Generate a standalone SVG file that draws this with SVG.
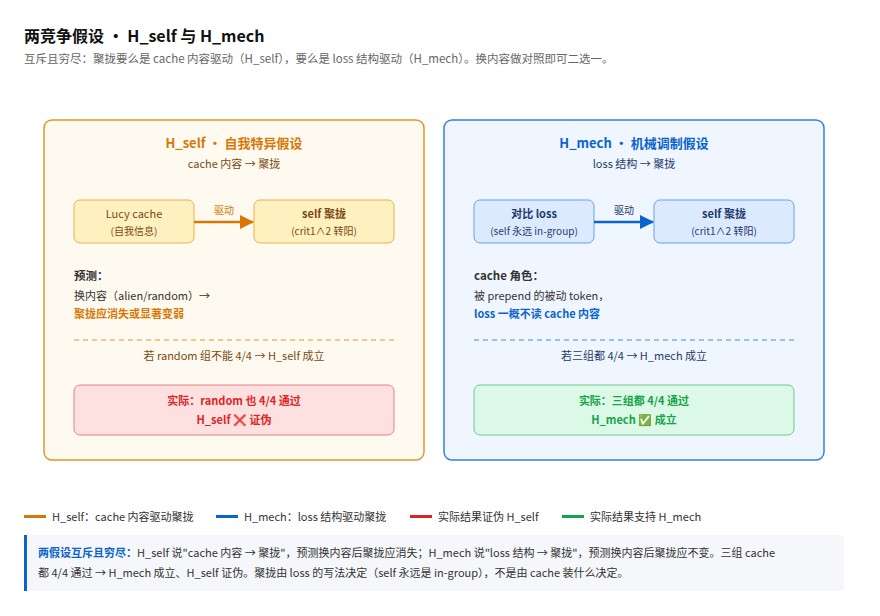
<svg xmlns="http://www.w3.org/2000/svg" width="880" height="616" viewBox="0 0 880 616">
<style>
text{font-family:"Noto Sans CJK SC","Liberation Sans",sans-serif;font-size:11px;fill:#333}
.c{text-anchor:middle}
.b{font-weight:bold}
.o{fill:#d97706}.ob{fill:#7a4a10}
.bl{fill:#0b63ce}.bd{fill:#1e3a6e}
.r{fill:#dc2626}.g{fill:#16a34a}
</style>
<defs>
<marker id="ao" markerWidth="14" markerHeight="14" refX="13" refY="7" orient="auto" markerUnits="userSpaceOnUse"><path d="M0,0L14,7L0,14z" fill="#d97706"/></marker>
<marker id="ab" markerWidth="14" markerHeight="14" refX="13" refY="7" orient="auto" markerUnits="userSpaceOnUse"><path d="M0,0L14,7L0,14z" fill="#0b63ce"/></marker>
</defs>
<rect width="880" height="616" fill="#fff"/>
<text x="24" y="42" style="font-size:16px;fill:#111" class="b">两竞争假设 · H_self 与 H_mech</text>
<text x="24" y="63" style="font-size:11.5px;fill:#666">互斥且穷尽：聚拢要么是 cache 内容驱动（H_self），要么是 loss 结构驱动（H_mech）。换内容做对照即可二选一。</text>

<g id="panel-self">
<rect x="44" y="120" width="380" height="340" rx="8" fill="#fffaf0" stroke="#e0962e" stroke-width="1.5"/>
<text x="234" y="148" class="c b o" style="font-size:13px">H_self · 自我特异假设</text>
<text x="234" y="168" class="c ob">cache 内容 → 聚拢</text>
<text x="74" y="280" class="b" style="font-size:11.5px">预测：</text>
<text x="74" y="300">换内容（alien/random）→</text>
<text x="74" y="318" class="b o">聚拢应消失或显著变弱</text>
<line x1="74" y1="340" x2="394" y2="340" stroke="#f0b870" stroke-width="1.5" stroke-dasharray="5,4"/>
<text x="234" y="360" class="c ob">若 random 组不能 4/4 → H_self 成立</text>
</g>
<g id="node-lucy"><rect x="74" y="200" width="120" height="43" rx="6" fill="#fff0c0" stroke="#e8b050"/>
<text x="134" y="218" class="c ob">Lucy cache</text><text x="134" y="235" class="c ob" style="font-size:10px">(自我信息)</text></g>
<g id="node-self1"><rect x="254" y="200" width="140" height="43" rx="6" fill="#fff0c0" stroke="#e8b050"/>
<text x="324" y="218" class="c b ob">self 聚拢</text><text x="324" y="235" class="c ob" style="font-size:10px">(crit1∧2 转阳)</text></g>
<g id="node-fail"><rect x="74" y="385" width="320" height="50" rx="6" fill="#fde0e0" stroke="#e88080"/>
<text x="234" y="405" class="c b r">实际：random 也 4/4 通过</text>
<text x="234" y="424" class="c b r">H_self ❌ 证伪</text></g>

<g id="panel-mech">
<rect x="444" y="120" width="380" height="340" rx="8" fill="#f0f6ff" stroke="#3a7fdc" stroke-width="1.5"/>
<text x="634" y="148" class="c b bl" style="font-size:13px">H_mech · 机械调制假设</text>
<text x="634" y="168" class="c bd">loss 结构 → 聚拢</text>
<text x="474" y="280" class="b" style="font-size:11.5px">cache 角色：</text>
<text x="474" y="300">被 prepend 的被动 token，</text>
<text x="474" y="318" class="b bl">loss 一概不读 cache 内容</text>
<line x1="474" y1="340" x2="794" y2="340" stroke="#80b0ec" stroke-width="1.5" stroke-dasharray="5,4"/>
<text x="634" y="360" class="c bd">若三组都 4/4 → H_mech 成立</text>
</g>
<g id="node-loss"><rect x="474" y="200" width="120" height="43" rx="6" fill="#dceaff" stroke="#6aa0e8"/>
<text x="534" y="218" class="c b bd">对比 loss</text><text x="534" y="235" class="c bd" style="font-size:10px">(self 永远 in-group)</text></g>
<g id="node-self2"><rect x="654" y="200" width="140" height="43" rx="6" fill="#dceaff" stroke="#6aa0e8"/>
<text x="724" y="218" class="c b bd">self 聚拢</text><text x="724" y="235" class="c bd" style="font-size:10px">(crit1∧2 转阳)</text></g>
<g id="node-ok"><rect x="474" y="385" width="320" height="50" rx="6" fill="#dcf8e6" stroke="#6cc890"/>
<text x="634" y="405" class="c b g">实际：三组都 4/4 通过</text>
<text x="634" y="424" class="c b g">H_mech ✅ 成立</text></g>

<g id="connectors">
<line x1="194" y1="222" x2="253" y2="222" stroke="#d97706" stroke-width="2.5" marker-end="url(#ao)"/>
<text x="224" y="214" class="c o" style="font-size:10px">驱动</text>
<line x1="594" y1="222" x2="653" y2="222" stroke="#0b63ce" stroke-width="2.5" marker-end="url(#ab)"/>
<text x="624" y="214" class="c bd" style="font-size:10px">驱动</text>
</g>

<g id="legend">
<rect x="24" y="515" width="22" height="3" fill="#d97706"/><text x="52" y="521">H_self：cache 内容驱动聚拢</text>
<rect x="216" y="515" width="22" height="3" fill="#0b63ce"/><text x="244" y="521">H_mech：loss 结构驱动聚拢</text>
<rect x="410" y="515" width="22" height="3" fill="#dc2626"/><text x="438" y="521">实际结果证伪 H_self</text>
<rect x="562" y="515" width="22" height="3" fill="#16a34a"/><text x="590" y="521">实际结果支持 H_mech</text>
</g>
<g id="note">
<rect x="24" y="535" width="820" height="56" rx="4" fill="#f5f7fa"/>
<rect x="24" y="535" width="3" height="56" fill="#0b63ce"/>
<text x="38" y="557"><tspan class="b bl">两假设互斥且穷尽：</tspan>H_self 说"cache 内容 → 聚拢"，预测换内容后聚拢应消失；H_mech 说"loss 结构 → 聚拢"，预测换内容后聚拢应不变。三组 cache</text>
<text x="38" y="577">都 4/4 通过 → H_mech 成立、H_self 证伪。聚拢由 loss 的写法决定（self 永远是 in-group），不是由 cache 装什么决定。</text>
</g>
</svg>
